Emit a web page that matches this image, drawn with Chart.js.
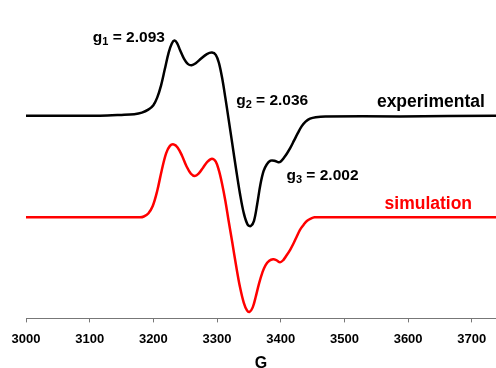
<!DOCTYPE html>
<html>
<head>
<meta charset="utf-8">
<script src="https://cdn.jsdelivr.net/npm/chart.js@4"></script>
<style>
  html, body { margin: 0; padding: 0; background: #fff; }
  #eprChart { display: block; }
</style>
</head>
<body>
<canvas id="eprChart" width="496" height="368"></canvas>
<script>
// field (G) and derivative intensity (a.u., baseline = 0)
const Exp_Field  = [3000, 3116, 3150, 3170, 3182, 3192, 3200, 3206, 3212, 3218, 3224, 3229, 3233, 3237, 3242, 3248, 3254, 3260, 3267, 3275, 3284, 3292, 3298, 3303, 3308, 3313, 3318, 3324, 3330, 3336, 3342, 3348, 3353, 3358, 3363, 3368, 3373, 3378, 3384, 3390, 3396, 3400, 3405, 3410, 3415, 3421, 3427, 3433, 3439, 3446, 3455, 3470, 3587, 3738];
const Exp_Signal = [0.00, 0.00, 0.01, 0.02, 0.04, 0.08, 0.14, 0.24, 0.40, 0.62, 0.84, 0.96, 1.00, 0.97, 0.87, 0.76, 0.69, 0.67, 0.70, 0.76, 0.82, 0.84, 0.81, 0.70, 0.50, 0.24, -0.04, -0.38, -0.72, -1.04, -1.30, -1.45, -1.47, -1.40, -1.18, -0.92, -0.74, -0.65, -0.60, -0.60, -0.62, -0.61, -0.56, -0.50, -0.43, -0.33, -0.23, -0.14, -0.08, -0.04, -0.02, -0.01, -0.01, 0.00];

const Sim_Field  = [3000, 3179, 3185, 3192, 3199, 3206, 3213, 3220, 3226, 3232, 3238, 3245, 3252, 3259, 3265, 3271, 3278, 3285, 3292, 3298, 3303, 3308, 3313, 3318, 3324, 3330, 3336, 3342, 3347, 3351, 3356, 3361, 3366, 3371, 3376, 3382, 3388, 3393, 3399, 3404, 3409, 3415, 3420, 3425, 3430, 3436, 3441, 3447, 3453, 3462, 3738];
const Sim_Signal = [0.00, 0.00, 0.01, 0.05, 0.15, 0.35, 0.62, 0.85, 0.95, 0.97, 0.93, 0.82, 0.68, 0.58, 0.55, 0.58, 0.66, 0.74, 0.78, 0.74, 0.62, 0.44, 0.22, -0.04, -0.34, -0.65, -0.93, -1.14, -1.24, -1.26, -1.20, -1.05, -0.88, -0.74, -0.64, -0.58, -0.56, -0.57, -0.60, -0.57, -0.51, -0.43, -0.35, -0.26, -0.17, -0.10, -0.05, -0.02, 0.00, 0.00, 0.00];

// vertical stacking of the two traces
const Exp_Offset = 2.70;
const Sim_Offset = 1.347;

const X_Min = 3000;
const X_Max = 3738;
const X_Step = 100;
const X_Title = 'G';

// text labels: [text, subscript, rest, field, level, colour, size]
const Labels = [
    ['g', '1', ' = 2.093', 3105, 3.684, '#000000', 15.5],
    ['g', '2', ' = 2.036', 3330, 2.84, '#000000', 15.5],
    ['g', '3', ' = 2.002', 3409, 1.849, '#000000', 15.5],
    ['experimental', '', '', 3551, 2.809, '#000000', 17.5],
    ['simulation', '', '', 3563, 1.453, '#ff0000', 17.5]
];

const Font_Family = '"Liberation Sans", Arial, sans-serif';

function To_Points(Field, Signal, Offset) {
    return Field.map((G, i) => ({ x: G, y: Signal[i] + Offset }));
}

const Label_Plugin = {
    id: 'eprLabels',
    afterDatasetsDraw(Chart_Ref) {
        const Ctx = Chart_Ref.ctx;
        const X_Scale = Chart_Ref.scales.x;
        const Y_Scale = Chart_Ref.scales.y;
        Ctx.save();
        Ctx.textBaseline = 'alphabetic';
        Ctx.textAlign = 'left';
        Labels.forEach(([Main, Sub, Rest, Gx, Lv, Colour, Size]) => {
            let Px = X_Scale.getPixelForValue(Gx);
            const Py = Y_Scale.getPixelForValue(Lv);
            Ctx.fillStyle = Colour;
            Ctx.font = `bold ${Size}px ${Font_Family}`;
            Ctx.fillText(Main, Px, Py);
            Px += Ctx.measureText(Main).width;
            if (Sub) {
                Ctx.font = `bold ${Math.round(Size * 0.7)}px ${Font_Family}`;
                Ctx.fillText(Sub, Px, Py + 3);
                Px += Ctx.measureText(Sub).width;
            }
            if (Rest) {
                Ctx.font = `bold ${Size}px ${Font_Family}`;
                Ctx.fillText(Rest, Px, Py);
            }
        });
        Ctx.restore();
    }
};

const Ctx = document.getElementById('eprChart').getContext('2d');
const Epr_Chart = new Chart(Ctx, {
    type: 'line',
    data: {
        datasets: [
            { label: 'experimental', data: To_Points(Exp_Field, Exp_Signal, Exp_Offset), borderColor: '#000000', borderWidth: 2.5, pointRadius: 0, fill: false, tension: 0.35 },
            { label: 'simulation', data: To_Points(Sim_Field, Sim_Signal, Sim_Offset), borderColor: '#ff0000', borderWidth: 2.5, pointRadius: 0, fill: false, tension: 0.35 }
        ]
    },
    options: {
        responsive: false,
        devicePixelRatio: 1,
        animation: false,
        layout: { padding: { left: 26, right: 0, top: 0, bottom: 0 } },
        scales: {
            x: {
                type: 'linear',
                min: X_Min,
                max: X_Max,
                grid: { drawOnChartArea: false, drawTicks: true, tickLength: 4, color: '#777777', lineWidth: 1 },
                border: { display: true, color: '#777777', width: 1 },
                ticks: {
                    stepSize: X_Step,
                    includeBounds: false,
                    maxRotation: 0,
                    padding: 9.5,
                    color: '#000000',
                    font: { family: Font_Family, size: 13, weight: 'bold' },
                    callback: (Value) => String(Value)
                },
                title: {
                    display: true,
                    text: X_Title,
                    color: '#000000',
                    padding: { top: 0, bottom: -3 },
                    font: { family: Font_Family, size: 16, weight: 'bold', lineHeight: 0.875 }
                }
            },
            y: {
                display: false,
                min: 0,
                max: 4.24
            }
        },
        plugins: {
            legend: { display: false },
            tooltip: { enabled: false }
        }
    },
    plugins: [Label_Plugin]
});
</script>
</body>
</html>
